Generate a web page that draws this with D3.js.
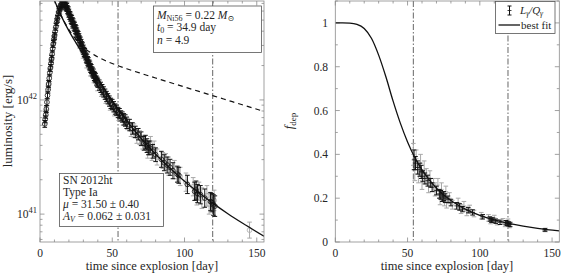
<!DOCTYPE html>
<html><head><meta charset="utf-8">
<script src="https://cdn.jsdelivr.net/npm/d3@7"></script>
<style>
html,body{margin:0;padding:0;background:#fff;}
svg{display:block;}
svg text, svg tspan{font-family:"Liberation Serif","DejaVu Serif","Times New Roman",serif;}
</style></head>
<body>
<svg id="c" width="562" height="275"></svg>
<script>
// ---------- DATA ----------
const xTicks = [0, 50, 100, 150];
const lumTickExp = [41, 42];
const fTicks = [0, 0.2, 0.4, 0.6, 0.8, 1];
const fTickLabels = ["0", "0.2", "0.4", "0.6", "0.8", "1"];
const markerTimes = [54, 119.5];

// model curves (luminosity in units of 1e42 erg/s)
const tModel = [9, 12, 15, 20, 25, 30, 35, 40, 45, 50, 55, 60, 70, 80, 90, 100, 110, 120, 130, 140, 155];
const lumFit = [8.039, 6.478, 5.335, 4.024, 3.145, 2.490, 1.974, 1.554, 1.232, 0.987, 0.800, 0.657, 0.4598, 0.3345, 0.2518, 0.1944, 0.1537, 0.1236, 0.1009, 0.0836, 0.0641];
const lumDeposit = [8.045, 6.492, 5.369, 4.127, 3.376, 2.906, 2.595, 2.378, 2.214, 2.084, 1.974, 1.876, 1.706, 1.557, 1.421, 1.299, 1.187, 1.085, 0.992, 0.907, 0.792];

const tFdep = [0, 5, 10, 15, 20, 25, 30, 35, 40, 45, 50, 55, 60, 70, 80, 90, 100, 110, 120, 130, 140, 155];
const fdepFit = [1, 1, 0.9991, 0.9936, 0.9746, 0.930, 0.853, 0.754, 0.643, 0.5426, 0.4568, 0.386, 0.329, 0.2454, 0.189, 0.150, 0.1216, 0.1007, 0.0846, 0.0721, 0.0622, 0.0506];

// observed bolometric light curve: time [day], log10 L, error [dex]
const obsBlackT = [3.3,3.6,4.0,4.4,4.8,5.2,5.6,6.0,6.4,6.8,7.2,7.6,8.0,8.4,8.8,9.2,9.6,10.0,10.5,11.0,11.5,12.0,12.5,13.0,13.5,14.0,14.5,15.0,15.5,16.0,16.5,17.0,17.5,18.0,18.5,19.0,19.5,20.0,20.5,21,21.5,22,22.5,23,23.5,24,24.5,25,25.5,26,26.5,27,27.5,28,28.5,29,29.5,30,30.5,31,31.5,32,32.5,33,33.5,34,34.5,35,35.5,36,36.5,37,37.5,38,38.5,39,39.5,40,41,42,43,44,45,46,47,48,49,50,51,52,53,54,55,56,57,58,59,60,62,64,66,68,70,72,73,74,75,76,78,80,84,86,88,90,92,95,96,102,107,108,109,111,114,118,119,120,121];
const obsBlackL = [41.79,41.83,41.87,41.92,41.98,42.04,42.09,42.14,42.19,42.24,42.28,42.32,42.36,42.40,42.45,42.49,42.53,42.56,42.60,42.64,42.68,42.71,42.74,42.77,42.79,42.81,42.83,42.84,42.85,42.85,42.85,42.84,42.83,42.82,42.81,42.79,42.78,42.76,42.74,42.73,42.71,42.70,42.68,42.67,42.65,42.64,42.62,42.61,42.59,42.57,42.56,42.54,42.52,42.51,42.49,42.47,42.46,42.44,42.42,42.41,42.39,42.37,42.36,42.34,42.33,42.31,42.30,42.28,42.27,42.25,42.24,42.23,42.21,42.20,42.19,42.17,42.16,42.15,42.13,42.11,42.09,42.07,42.05,42.03,42.01,41.99,41.97,41.96,41.94,41.92,41.91,41.89,41.88,41.86,41.85,41.83,41.82,41.80,41.78,41.75,41.72,41.70,41.66,41.62,41.63,41.60,41.58,41.58,41.55,41.52,41.48,41.45,41.43,41.41,41.38,41.35,41.34,41.26,41.20,41.21,41.18,41.17,41.14,41.11,41.10,41.08,41.07];
const obsBlackE = [0.03,0.03,0.03,0.03,0.03,0.03,0.03,0.03,0.03,0.03,0.03,0.03,0.03,0.03,0.03,0.03,0.03,0.03,0.03,0.03,0.03,0.03,0.03,0.03,0.03,0.03,0.035,0.035,0.035,0.035,0.035,0.035,0.035,0.035,0.035,0.035,0.035,0.035,0.035,0.04,0.04,0.04,0.04,0.04,0.04,0.04,0.04,0.04,0.04,0.04,0.04,0.04,0.04,0.04,0.04,0.04,0.04,0.04,0.04,0.04,0.04,0.04,0.04,0.04,0.04,0.04,0.04,0.04,0.04,0.04,0.04,0.04,0.04,0.04,0.04,0.04,0.04,0.04,0.045,0.045,0.045,0.045,0.045,0.045,0.045,0.045,0.045,0.045,0.045,0.045,0.045,0.045,0.045,0.045,0.045,0.05,0.05,0.05,0.05,0.05,0.05,0.05,0.06,0.06,0.06,0.06,0.06,0.06,0.06,0.06,0.07,0.07,0.07,0.07,0.07,0.07,0.07,0.08,0.08,0.08,0.08,0.08,0.08,0.08,0.08,0.09,0.09];

const obsGrayT = [4.2,5.9,7.9,9.9,11.9,13.9,15.8,17.8,19.8,22.3,24.8,27.3,29.8,32.3,34.8,37.3,39.8,42.5,45.5,48.5,51.5,54.5,57.5,60.5,63,65,67,69,71,74.5,76.5,77.5,79,81,85,87,89,93,97,101,106,108.5,110,112,115.5,117,120.5,145];
const obsGrayL = [41.90,42.13,42.35,42.54,42.69,42.79,42.83,42.82,42.77,42.67,42.59,42.50,42.41,42.33,42.26,42.20,42.13,42.08,42.02,41.96,41.91,41.87,41.83,41.79,41.74,41.73,41.68,41.67,41.63,41.56,41.61,41.54,41.57,41.50,41.47,41.46,41.42,41.39,41.33,41.28,41.24,41.16,41.20,41.14,41.16,41.09,41.12,40.86];
const obsGrayE = [0.04,0.04,0.04,0.04,0.04,0.04,0.04,0.04,0.045,0.045,0.045,0.045,0.045,0.05,0.05,0.05,0.05,0.05,0.05,0.05,0.05,0.05,0.05,0.05,0.06,0.06,0.06,0.06,0.06,0.07,0.07,0.07,0.07,0.07,0.07,0.07,0.08,0.08,0.08,0.08,0.08,0.08,0.08,0.09,0.09,0.09,0.09,0.07];

// gamma-ray deposition fraction L_gamma/Q_gamma
const fBlackT = [54.5,55.5,57,58.5,59.5,60.5,62,64,66,67,70,72,73,74,75,76,78,80,84,86,88,92,95,102,107,108,109,111,114,118,119,120,121,145];
const fBlackV = [0.375,0.36,0.34,0.33,0.32,0.30,0.29,0.28,0.27,0.25,0.235,0.22,0.215,0.205,0.21,0.20,0.195,0.18,0.165,0.16,0.15,0.145,0.135,0.115,0.105,0.10,0.10,0.095,0.09,0.088,0.085,0.082,0.08,0.055];
const fBlackE = [0.045,0.03,0.03,0.03,0.03,0.025,0.025,0.025,0.02,0.02,0.02,0.02,0.02,0.02,0.02,0.02,0.015,0.015,0.015,0.015,0.012,0.012,0.012,0.01,0.01,0.01,0.01,0.01,0.01,0.01,0.01,0.01,0.01,0.006];

const fGrayT = [54,55,56,57.5,59,60,61.5,63,64.5,65.5,68,69,71,72.5,73.5,75.5,76.5,77,79,81,85,87,89,91,93,96,101,106,107.5,110,112,116,117.5,119.5,120.5,145.5];
const fGrayV = [0.40,0.33,0.38,0.31,0.36,0.28,0.33,0.30,0.26,0.29,0.26,0.24,0.26,0.20,0.24,0.19,0.23,0.18,0.20,0.17,0.18,0.15,0.165,0.14,0.15,0.13,0.12,0.11,0.095,0.11,0.09,0.095,0.08,0.095,0.075,0.055];
const fGrayE = [0.05,0.05,0.04,0.04,0.04,0.04,0.04,0.035,0.035,0.035,0.03,0.03,0.03,0.03,0.03,0.025,0.025,0.025,0.025,0.02,0.02,0.02,0.02,0.02,0.018,0.015,0.015,0.015,0.012,0.012,0.012,0.012,0.01,0.01,0.01,0.008];

// ---------- DRAWING ----------
const svg = d3.select("#c");
const FRAME = "#8a8a8a", TXT = "#262626", GRAY = "#a9a9a9";
const SERIF = "'Liberation Serif','DejaVu Serif','Times New Roman',serif";

function zip(t, v, e) { return t.map((d, i) => ({t: d, v: v[i], e: e ? e[i] : 0})); }
function txt(x, y, size) {
  return svg.append("text").attr("x", x).attr("y", y).attr("font-size", size)
    .attr("font-family", SERIF).attr("fill", TXT);
}

// Left panel scales
const xL = d3.scaleLinear().domain([0, 155]).range([40, 264]);
const yL = d3.scaleLog().domain([5.7e40, 7.35e42]).range([242, 1]);
// Right panel scales
const xR = d3.scaleLinear().domain([0, 155]).range([335.3, 559.3]);
const yR = d3.scaleLinear().domain([0, 1.1]).range([242, 1]);

const defs = svg.append("defs");
defs.append("clipPath").attr("id", "clipL").append("rect")
  .attr("x", 40).attr("y", 1).attr("width", 224).attr("height", 241);
defs.append("clipPath").attr("id", "clipR").append("rect")
  .attr("x", 335.3).attr("y", 1).attr("width", 224).attr("height", 241);

function frame(x, y) {
  const g = svg.append("g");
  const [y0, y1] = y.range();
  d3.range(0, 156, 10).forEach(v => {
    const major = xTicks.includes(v);
    const len = major ? 4.5 : 2.5;
    g.append("line").attr("x1", x(v)).attr("x2", x(v)).attr("y1", y0).attr("y2", y0 - len).attr("stroke", FRAME).attr("stroke-width", 0.8);
    g.append("line").attr("x1", x(v)).attr("x2", x(v)).attr("y1", y1).attr("y2", y1 + len).attr("stroke", FRAME).attr("stroke-width", 0.8);
  });
  xTicks.forEach(v => {
    txt(x(v), 257, 11.5).attr("text-anchor", "middle").text(v);
  });
  return g;
}

function yTickMarks(g, x, yPos, major) {
  const [x0, x1] = x.range();
  const len = major ? 4.5 : 2.5;
  g.append("line").attr("x1", x0).attr("x2", x0 + len).attr("y1", yPos).attr("y2", yPos).attr("stroke", FRAME).attr("stroke-width", 0.8);
  g.append("line").attr("x1", x1).attr("x2", x1 - len).attr("y1", yPos).attr("y2", yPos).attr("stroke", FRAME).attr("stroke-width", 0.8);
}

// ---- Left panel ----
const gLf = frame(xL, yL);
[40, 41, 42].forEach(ex => {
  for (let m = 1; m <= 9; m++) {
    const v = m * Math.pow(10, ex);
    if (v < yL.domain()[0] || v > yL.domain()[1]) continue;
    yTickMarks(gLf, xL, yL(v), m === 1);
  }
});
lumTickExp.forEach(ex => {
  const t = txt(37, yL(Math.pow(10, ex)) + 4, 11.5).attr("text-anchor", "end");
  t.append("tspan").text("10");
  t.append("tspan").attr("dy", -5).attr("font-size", 8.5).text(ex);
});

const plotL = svg.append("g").attr("clip-path", "url(#clipL)");
markerTimes.forEach(m => {
  plotL.append("line").attr("x1", xL(m)).attr("x2", xL(m)).attr("y1", 1).attr("y2", 242)
    .attr("stroke", "#555").attr("stroke-width", 0.9).attr("stroke-dasharray", "6,2,1.5,2");
});

const lineL = d3.line().x(d => xL(d.t)).y(d => yL(d.v * 1e42)).curve(d3.curveMonotoneX);

function errPoints(g, data, x, yv, color, circle) {
  const cap = 2.3;
  data.forEach(d => {
    const yc = yv(d.v), ylo = yv(d.v, -d.e), yhi = yv(d.v, d.e);
    const xc = x(d.t);
    g.append("line").attr("x1", xc).attr("x2", xc).attr("y1", ylo).attr("y2", yhi).attr("stroke", color).attr("stroke-width", 1);
    g.append("line").attr("x1", xc - cap).attr("x2", xc + cap).attr("y1", ylo).attr("y2", ylo).attr("stroke", color).attr("stroke-width", 1);
    g.append("line").attr("x1", xc - cap).attr("x2", xc + cap).attr("y1", yhi).attr("y2", yhi).attr("stroke", color).attr("stroke-width", 1);
    if (circle) {
      g.append("circle").attr("cx", xc).attr("cy", yc).attr("r", 2.4).attr("fill", "none").attr("stroke", color).attr("stroke-width", 0.8);
    } else {
      g.append("line").attr("x1", xc - cap).attr("x2", xc + cap).attr("y1", yc).attr("y2", yc).attr("stroke", color).attr("stroke-width", 0.8);
    }
  });
}
const yLv = (v, e = 0) => yL(Math.pow(10, v + e));
errPoints(plotL, zip(obsGrayT, obsGrayL, obsGrayE), xL, yLv, GRAY, true);
errPoints(plotL, zip(obsBlackT, obsBlackL, obsBlackE), xL, yLv, "#111", true);

plotL.append("path").datum(zip(tModel, lumDeposit)).attr("d", lineL)
  .attr("fill", "none").attr("stroke", "#111").attr("stroke-width", 1.2).attr("stroke-dasharray", "5,4");
plotL.append("path").datum(zip(tModel, lumFit)).attr("d", lineL)
  .attr("fill", "none").attr("stroke", "#111").attr("stroke-width", 1.3);

svg.append("rect").attr("x", 40).attr("y", 1).attr("width", 224).attr("height", 241)
  .attr("fill", "none").attr("stroke", FRAME).attr("stroke-width", 0.8);

// text box 1
svg.append("rect").attr("x", 153.5).attr("y", 6).attr("width", 108).attr("height", 46.5)
  .attr("fill", "#fff").attr("stroke", "#555").attr("stroke-width", 0.8);
{
  const t1 = txt(157, 18.5, 11.5);
  t1.append("tspan").attr("font-style", "italic").text("M");
  t1.append("tspan").attr("dy", 2).attr("font-size", 8).text("Ni56");
  t1.append("tspan").attr("dy", -2).text(" = 0.22 ");
  t1.append("tspan").attr("font-style", "italic").text("M");
  t1.append("tspan").attr("dy", 2).attr("font-size", 8).text("\u2299");
  const t2 = txt(157, 31, 11.5);
  t2.append("tspan").attr("font-style", "italic").text("t");
  t2.append("tspan").attr("dy", 2).attr("font-size", 8).text("0");
  t2.append("tspan").attr("dy", -2).text("  = 34.9 day");
  const t3 = txt(157, 43.5, 11.5);
  t3.append("tspan").attr("font-style", "italic").text("n");
  t3.append("tspan").text("   = 4.9");
}
// text box 2
svg.append("rect").attr("x", 59.5).attr("y", 173.5).attr("width", 104).attr("height", 53)
  .attr("fill", "#fff").attr("stroke", "#555").attr("stroke-width", 0.8);
{
  const rows = [184, 196, 208, 220];
  txt(63, rows[0], 11.5).text("SN 2012ht");
  txt(63, rows[1], 11.5).text("Type Ia");
  const t3 = txt(63, rows[2], 11.5);
  t3.append("tspan").attr("font-style", "italic").text("\u03bc");
  t3.append("tspan").text(" = 31.50 \u00b1 0.40");
  const t4 = txt(63, rows[3], 11.5);
  t4.append("tspan").attr("font-style", "italic").text("A");
  t4.append("tspan").attr("dy", 2).attr("font-size", 8).attr("font-style", "italic").text("V");
  t4.append("tspan").attr("dy", -2).text(" = 0.062 \u00b1 0.031");
}

txt(152, 270, 12.5).attr("text-anchor", "middle").text("time since explosion [day]");
txt(0, 0, 13).attr("transform", "translate(12,121) rotate(-90)").attr("text-anchor", "middle").text("luminosity [erg/s]");

// ---- Right panel ----
const gRf = frame(xR, yR);
d3.range(0, 1.11, 0.1).forEach(v => {
  const major = Math.abs(v * 5 - Math.round(v * 5)) < 1e-6;
  yTickMarks(gRf, xR, yR(v), major);
});
fTicks.forEach((v, i) => {
  txt(328, yR(v) + 4, 11.5).attr("text-anchor", "end").text(fTickLabels[i]);
});
const plotR = svg.append("g").attr("clip-path", "url(#clipR)");
markerTimes.forEach(m => {
  plotR.append("line").attr("x1", xR(m)).attr("x2", xR(m)).attr("y1", 1).attr("y2", 242)
    .attr("stroke", "#555").attr("stroke-width", 0.9).attr("stroke-dasharray", "6,2,1.5,2");
});
const yRv = (v, e = 0) => yR(v + e);
errPoints(plotR, zip(fGrayT, fGrayV, fGrayE), xR, yRv, GRAY, false);
errPoints(plotR, zip(fBlackT, fBlackV, fBlackE), xR, yRv, "#111", false);
plotR.append("path").datum(zip(tFdep, fdepFit))
  .attr("d", d3.line().x(d => xR(d.t)).y(d => yR(d.v)).curve(d3.curveMonotoneX))
  .attr("fill", "none").attr("stroke", "#111").attr("stroke-width", 1.3);
svg.append("rect").attr("x", 335.3).attr("y", 1).attr("width", 224).attr("height", 241)
  .attr("fill", "none").attr("stroke", FRAME).attr("stroke-width", 0.8);

// legend
svg.append("rect").attr("x", 495.5).attr("y", 1.5).attr("width", 59.5).attr("height", 32)
  .attr("fill", "#fff").attr("stroke", "#555").attr("stroke-width", 0.8);
{
  const lx = 509.5;
  svg.append("line").attr("x1", lx).attr("x2", lx).attr("y1", 6).attr("y2", 15).attr("stroke", "#111");
  svg.append("line").attr("x1", lx - 2).attr("x2", lx + 2).attr("y1", 6).attr("y2", 6).attr("stroke", "#111");
  svg.append("line").attr("x1", lx - 2).attr("x2", lx + 2).attr("y1", 15).attr("y2", 15).attr("stroke", "#111");
  svg.append("line").attr("x1", lx - 2).attr("x2", lx + 2).attr("y1", 10.5).attr("y2", 10.5).attr("stroke", "#111").attr("stroke-width", 0.8);
  const lt = txt(520, 13.5, 11);
  lt.append("tspan").attr("font-style", "italic").text("L");
  lt.append("tspan").attr("dy", 2).attr("font-size", 7.5).attr("font-style", "italic").text("\u03b3");
  lt.append("tspan").attr("dy", -2).attr("font-style", "italic").text("/Q");
  lt.append("tspan").attr("dy", 2).attr("font-size", 7.5).attr("font-style", "italic").text("\u03b3");
  svg.append("line").attr("x1", 498.5).attr("x2", 520).attr("y1", 25).attr("y2", 25).attr("stroke", "#111").attr("stroke-width", 1.3);
  txt(521, 28.5, 11).text("best fit");
}

txt(447, 270, 12.5).attr("text-anchor", "middle").text("time since explosion [day]");
{
  const fl = txt(0, 0, 12.5).attr("transform", "translate(293,121) rotate(-90)").attr("text-anchor", "middle");
  fl.append("tspan").attr("font-style", "italic").text("f");
  fl.append("tspan").attr("dy", 3).attr("font-size", 9).text("dep");
}
</script>
</body></html>
